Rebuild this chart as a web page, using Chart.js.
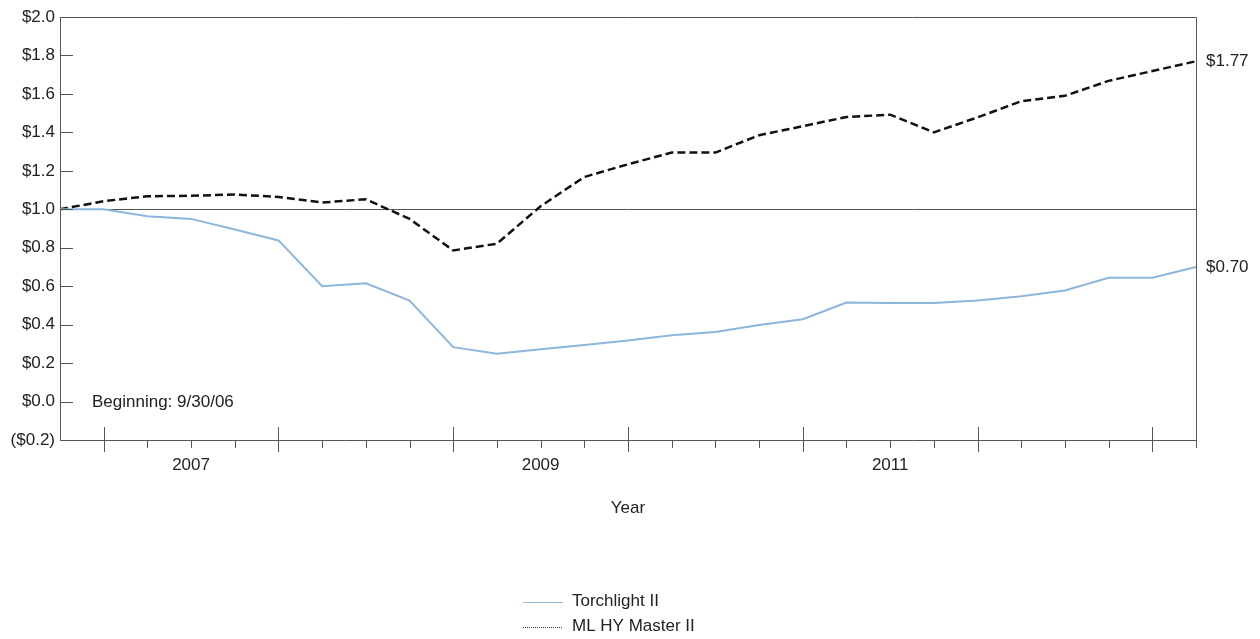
<!DOCTYPE html>
<html>
<head>
<meta charset="utf-8">
<script src="https://cdn.jsdelivr.net/npm/chart.js@4"></script>
<style>
  html, body { margin: 0; padding: 0; background: #fff; }
</style>
</head>
<body>
<canvas id="growthChart" width="1260" height="639"></canvas>
<script>
// quarter-end dates, 9/30/06 .. 3/31/13
const quarters = [
  '9/30/06', '12/31/06', '3/31/07', '6/30/07', '9/30/07', '12/31/07',
  '3/31/08', '6/30/08', '9/30/08', '12/31/08', '3/31/09', '6/30/09',
  '9/30/09', '12/31/09', '3/31/10', '6/30/10', '9/30/10', '12/31/10',
  '3/31/11', '6/30/11', '9/30/11', '12/31/11', '3/31/12', '6/30/12',
  '9/30/12', '12/31/12', '3/31/13'
];
const yearLabels = { '6/30/07': '2007', '6/30/09': '2009', '6/30/11': '2011' };

const torchlight = [
  1.00, 1.00, 0.964, 0.95, 0.895, 0.838, 0.60, 0.615, 0.525, 0.283,
  0.249, 0.272, 0.294, 0.317, 0.345, 0.362, 0.398, 0.428, 0.515, 0.512,
  0.512, 0.526, 0.548, 0.578, 0.644, 0.644, 0.70
];
const mlHyMaster = [
  1.00, 1.042, 1.068, 1.07, 1.077, 1.064, 1.035, 1.052, 0.95, 0.786,
  0.821, 1.016, 1.168, 1.234, 1.295, 1.295, 1.385, 1.432, 1.48, 1.492,
  1.40, 1.478, 1.562, 1.59, 1.668, 1.719, 1.77
];

const FONT = "'Liberation Sans', Arial, sans-serif";
const TEXT = '#222';
const AXIS = '#555';
const BLUE = '#8db6dc';

function money(v) {
  v = Math.round(v * 10) / 10;
  return v < 0 ? '($' + Math.abs(v).toFixed(1) + ')' : '$' + v.toFixed(1);
}

// frame, tick marks, end labels, notes and the legend
const decorations = {
  id: 'decorations',
  afterDraw(chart) {
    const { ctx, chartArea: a, scales: { x, y } } = chart;
    ctx.save();
    ctx.strokeStyle = AXIS;
    ctx.lineWidth = 1;

    ctx.beginPath();
    ctx.moveTo(a.left, a.top + 0.5);
    ctx.lineTo(a.right + 0.5, a.top + 0.5);
    ctx.lineTo(a.right + 0.5, a.bottom);
    ctx.stroke();

    // inward ticks on the value axis
    y.ticks.forEach(t => {
      const py = Math.round(y.getPixelForValue(t.value)) + 0.5;
      ctx.beginPath();
      ctx.moveTo(a.left, py);
      ctx.lineTo(a.left + 13, py);
      ctx.stroke();
    });

    // quarter ticks, long ones at year ends
    quarters.forEach((q, i) => {
      if (i === 0) return;
      const px = Math.round(x.getPixelForValue(i)) + 0.5;
      ctx.beginPath();
      if (q.startsWith('12/31')) {
        ctx.moveTo(px, a.bottom - 13);
        ctx.lineTo(px, a.bottom + 12);
      } else {
        ctx.moveTo(px, a.bottom);
        ctx.lineTo(px, a.bottom + 8);
      }
      ctx.stroke();
    });

    ctx.fillStyle = TEXT;
    ctx.font = '17px ' + FONT;
    ctx.textBaseline = 'middle';

    // ending values
    chart.data.datasets.forEach((ds, di) => {
      const pts = chart.getDatasetMeta(di).data;
      const last = pts[pts.length - 1];
      ctx.textAlign = 'left';
      ctx.fillText('$' + ds.data[ds.data.length - 1].toFixed(2), a.right + 10, last.y);
    });

    ctx.textAlign = 'left';
    ctx.fillText('Beginning: ' + quarters[0], 92, y.getPixelForValue(0) + 1);

    ctx.textAlign = 'center';
    ctx.fillText('Year', (a.left + a.right) / 2, 508);

    // legend
    const rows = [
      { label: 'Torchlight II', color: BLUE, dash: [], y: 602 },
      { label: 'ML HY Master II', color: '#333', dash: [1, 1], y: 627 }
    ];
    rows.forEach(r => {
      ctx.strokeStyle = r.color;
      ctx.setLineDash(r.dash);
      ctx.beginPath();
      ctx.moveTo(523, r.y + 0.5);
      ctx.lineTo(563, r.y + 0.5);
      ctx.stroke();
      ctx.setLineDash([]);
      ctx.textAlign = 'left';
      ctx.fillText(r.label, 572, r.y - 1);
    });
    ctx.restore();
  }
};

document.addEventListener('DOMContentLoaded', () => {
  const ctx = document.getElementById('growthChart').getContext('2d');
  new Chart(ctx, {
    type: 'line',
    data: {
      labels: quarters,
      datasets: [{
        label: 'Torchlight II',
        data: torchlight,
        borderColor: BLUE,
        borderWidth: 2
      }, {
        label: 'ML HY Master II',
        data: mlHyMaster,
        borderColor: '#111',
        borderWidth: 2.5,
        borderDash: [8, 4]
      }]
    },
    options: {
      responsive: false,
      animation: false,
      layout: { padding: { top: 17, right: 64, left: 0, bottom: 0 } },
      elements: { point: { radius: 0 }, line: { tension: 0 } },
      plugins: { legend: { display: false }, tooltip: { enabled: false } },
      scales: {
        x: {
          type: 'category',
          offset: false,
          grid: { display: false, drawTicks: false },
          border: { color: AXIS },
          ticks: {
            autoSkip: false,
            maxRotation: 0,
            padding: 15,
            color: TEXT,
            font: { family: FONT, size: 17 },
            callback: (v, i) => yearLabels[quarters[i]] || ''
          },
          afterFit(s) { s.height = 199; }
        },
        y: {
          min: -0.2,
          max: 2.0,
          border: { color: AXIS },
          grid: {
            drawTicks: false,
            color: c => Math.abs(c.tick.value - 1) < 1e-6 ? AXIS : 'transparent'
          },
          ticks: {
            stepSize: 0.2,
            padding: 5,
            color: TEXT,
            font: { family: FONT, size: 17 },
            callback: v => money(v)
          },
          afterFit(s) { s.width = 60; }
        }
      }
    },
    plugins: [decorations]
  });
});
</script>
</body>
</html>
